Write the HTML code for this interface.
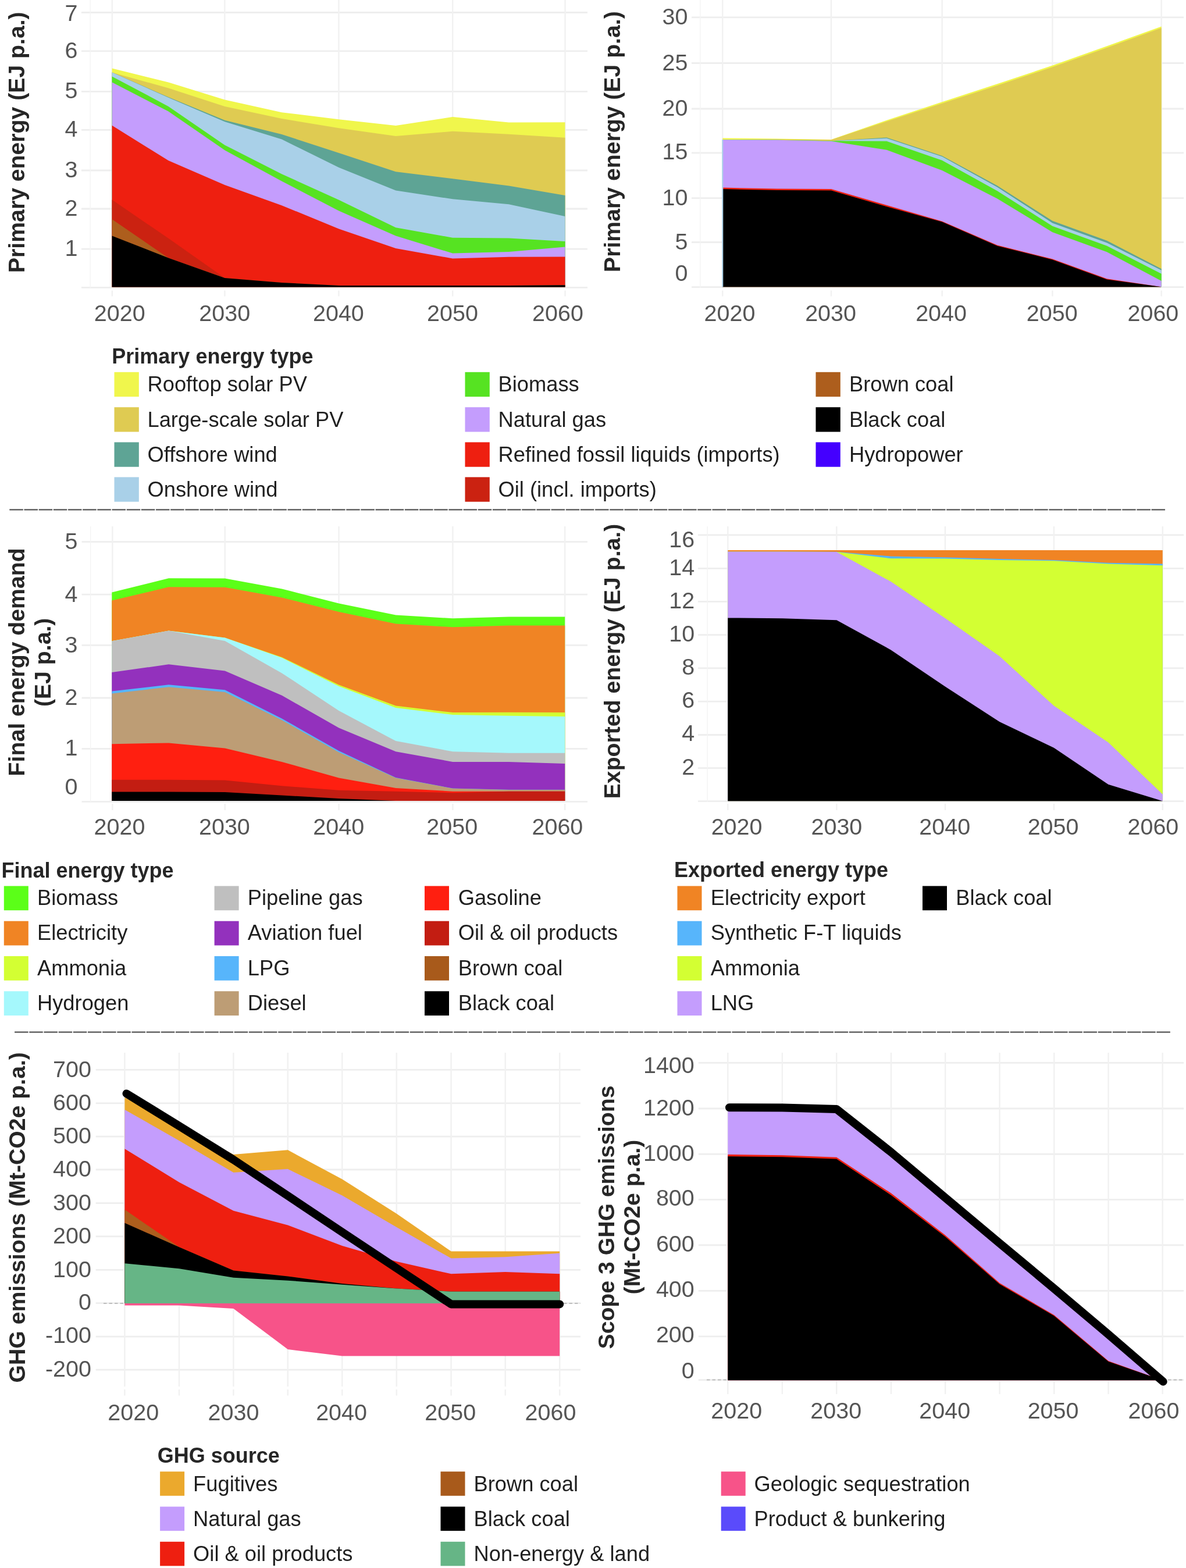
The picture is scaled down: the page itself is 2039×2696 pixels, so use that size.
<!DOCTYPE html>
<html><head><meta charset="utf-8"><title>Energy charts</title>
<style>
html,body{margin:0;padding:0;background:#fff;}
svg{display:block;}
text{font-family:"Liberation Sans",Arial,sans-serif;}
</style></head>
<body>
<svg width="2039" height="2696" viewBox="0 0 2039 2696">
<rect x="0" y="0" width="2039" height="2696" fill="#FFFFFF"/>
<line x1="140" y1="21.5" x2="1010" y2="21.5" stroke="#EEEEEE" stroke-width="2.8"/>
<line x1="140" y1="87.9" x2="1010" y2="87.9" stroke="#EEEEEE" stroke-width="2.8"/>
<line x1="140" y1="157.3" x2="1010" y2="157.3" stroke="#EEEEEE" stroke-width="2.8"/>
<line x1="140" y1="223.3" x2="1010" y2="223.3" stroke="#EEEEEE" stroke-width="2.8"/>
<line x1="140" y1="293" x2="1010" y2="293" stroke="#EEEEEE" stroke-width="2.8"/>
<line x1="140" y1="359" x2="1010" y2="359" stroke="#EEEEEE" stroke-width="2.8"/>
<line x1="140" y1="428.2" x2="1010" y2="428.2" stroke="#EEEEEE" stroke-width="2.8"/>
<line x1="140" y1="494.3" x2="1010" y2="494.3" stroke="#EEEEEE" stroke-width="2.8"/>
<line x1="155.2" y1="0" x2="155.2" y2="495" stroke="#F4F4F4" stroke-width="1.4"/>
<line x1="192.8" y1="0" x2="192.8" y2="495" stroke="#F1F1F1" stroke-width="2.4"/>
<line x1="192.8" y1="499.5" x2="192.8" y2="509.5" stroke="#F1F1F1" stroke-width="2.4"/>
<line x1="386.4" y1="0" x2="386.4" y2="495" stroke="#F1F1F1" stroke-width="2.4"/>
<line x1="386.4" y1="499.5" x2="386.4" y2="509.5" stroke="#F1F1F1" stroke-width="2.4"/>
<line x1="582.4" y1="0" x2="582.4" y2="495" stroke="#F1F1F1" stroke-width="2.4"/>
<line x1="582.4" y1="499.5" x2="582.4" y2="509.5" stroke="#F1F1F1" stroke-width="2.4"/>
<line x1="778.2" y1="0" x2="778.2" y2="495" stroke="#F1F1F1" stroke-width="2.4"/>
<line x1="778.2" y1="499.5" x2="778.2" y2="509.5" stroke="#F1F1F1" stroke-width="2.4"/>
<line x1="971.6" y1="0" x2="971.6" y2="495" stroke="#F1F1F1" stroke-width="2.4"/>
<line x1="971.6" y1="499.5" x2="971.6" y2="509.5" stroke="#F1F1F1" stroke-width="2.4"/>
<polygon fill="#F0F64C" points="192.6,117.6 289.5,141.4 386.4,171.6 484.4,193.2 582.6,205.2 680.4,215.9 778.2,201.1 874.8,210.5 971.5,210.3 971.5,493.5 192.6,493.5"/>
<polygon fill="#DFCB52" points="192.6,124.4 289.5,151.5 386.4,182.9 484.4,204 582.6,220.2 680.4,233.9 778.2,225.8 874.8,230.7 971.5,236.7 971.5,493.5 192.6,493.5"/>
<polygon fill="#5EA495" points="192.6,124.4 289.5,167 386.4,206.7 484.4,231 582.6,263 680.4,295.2 778.2,307.3 874.8,319.4 971.5,336 971.5,493.5 192.6,493.5"/>
<polygon fill="#A9D0E8" points="192.6,124.4 289.5,167.8 386.4,209.2 484.4,239.5 582.6,288 680.4,327.5 778.2,342.3 874.8,351.2 971.5,372 971.5,493.5 192.6,493.5"/>
<polygon fill="#56E322" points="192.6,131.4 289.5,182.9 386.4,249.4 484.4,299.2 582.6,343.7 680.4,391.3 778.2,408.7 874.8,409.6 971.5,415 971.5,493.5 192.6,493.5"/>
<polygon fill="#C49DFD" points="192.6,141.4 289.5,191.6 386.4,258.2 484.4,311.5 582.6,362.5 680.4,405.5 778.2,435.6 874.8,433 971.5,424.5 971.5,493.5 192.6,493.5"/>
<polygon fill="#EE1F10" points="192.6,215.8 289.5,276 386.4,318 484.4,353.2 582.6,393.4 680.4,427 778.2,444.5 874.8,441.8 971.5,441.5 971.5,493.5 192.6,493.5"/>
<polygon fill="#CB2211" points="192.6,343.6 289.5,409.8 386.4,478 484.4,486 582.6,491 680.4,491 778.2,491 874.8,491 971.5,490.3 971.5,493.5 192.6,493.5"/>
<polygon fill="#AD5E1D" points="192.6,377 289.5,443.5 386.4,478 484.4,486 582.6,491 680.4,491 778.2,491 874.8,491 971.5,490.3 971.5,493.5 192.6,493.5"/>
<polygon fill="#000000" points="192.6,405.4 289.5,443.5 386.4,478 484.4,486 582.6,491 680.4,491 778.2,491 874.8,491 971.5,490.3 971.5,493.5 192.6,493.5"/>
<text x="133.5" y="36.4" text-anchor="end" font-size="39.5" fill="#555555">7</text>
<text x="133.5" y="99.7" text-anchor="end" font-size="39.5" fill="#555555">6</text>
<text x="133.5" y="169.3" text-anchor="end" font-size="39.5" fill="#555555">5</text>
<text x="133.5" y="235.1" text-anchor="end" font-size="39.5" fill="#555555">4</text>
<text x="133.5" y="304.6" text-anchor="end" font-size="39.5" fill="#555555">3</text>
<text x="133.5" y="370.7" text-anchor="end" font-size="39.5" fill="#555555">2</text>
<text x="133.5" y="439.7" text-anchor="end" font-size="39.5" fill="#555555">1</text>
<text x="205.7" y="552" text-anchor="middle" font-size="39.5" fill="#555555">2020</text>
<text x="386.2" y="552" text-anchor="middle" font-size="39.5" fill="#555555">2030</text>
<text x="581.9" y="552" text-anchor="middle" font-size="39.5" fill="#555555">2040</text>
<text x="778" y="552" text-anchor="middle" font-size="39.5" fill="#555555">2050</text>
<text x="959" y="552" text-anchor="middle" font-size="39.5" fill="#555555">2060</text>
<text transform="translate(41.8,244.7) rotate(-90)" text-anchor="middle" font-size="39.2" fill="#262626" font-weight="bold">Primary energy (EJ p.a.)</text>
<line x1="1189" y1="29.9" x2="2035" y2="29.9" stroke="#EEEEEE" stroke-width="2.8"/>
<line x1="1189" y1="108.5" x2="2035" y2="108.5" stroke="#EEEEEE" stroke-width="2.8"/>
<line x1="1189" y1="187" x2="2035" y2="187" stroke="#EEEEEE" stroke-width="2.8"/>
<line x1="1189" y1="262.9" x2="2035" y2="262.9" stroke="#EEEEEE" stroke-width="2.8"/>
<line x1="1189" y1="340.7" x2="2035" y2="340.7" stroke="#EEEEEE" stroke-width="2.8"/>
<line x1="1189" y1="416.5" x2="2035" y2="416.5" stroke="#EEEEEE" stroke-width="2.8"/>
<line x1="1189" y1="493.7" x2="2035" y2="493.7" stroke="#EEEEEE" stroke-width="2.8"/>
<line x1="1203.8" y1="0" x2="1203.8" y2="495" stroke="#F4F4F4" stroke-width="1.4"/>
<line x1="1242.3" y1="0" x2="1242.3" y2="495" stroke="#F1F1F1" stroke-width="2.4"/>
<line x1="1242.3" y1="499.5" x2="1242.3" y2="509.5" stroke="#F1F1F1" stroke-width="2.4"/>
<line x1="1429" y1="0" x2="1429" y2="495" stroke="#F1F1F1" stroke-width="2.4"/>
<line x1="1429" y1="499.5" x2="1429" y2="509.5" stroke="#F1F1F1" stroke-width="2.4"/>
<line x1="1619.7" y1="0" x2="1619.7" y2="495" stroke="#F1F1F1" stroke-width="2.4"/>
<line x1="1619.7" y1="499.5" x2="1619.7" y2="509.5" stroke="#F1F1F1" stroke-width="2.4"/>
<line x1="1809.4" y1="0" x2="1809.4" y2="495" stroke="#F1F1F1" stroke-width="2.4"/>
<line x1="1809.4" y1="499.5" x2="1809.4" y2="509.5" stroke="#F1F1F1" stroke-width="2.4"/>
<line x1="1996.7" y1="0" x2="1996.7" y2="495" stroke="#F1F1F1" stroke-width="2.4"/>
<line x1="1996.7" y1="499.5" x2="1996.7" y2="509.5" stroke="#F1F1F1" stroke-width="2.4"/>
<polygon fill="#F0F64C" points="1242.3,237.4 1335.7,238.4 1429,240 1524.4,206.8 1619.7,175.2 1714.5,144.3 1809.4,112.6 1903,79.3 1996.7,45.4 1996.7,493.3 1242.3,493.3"/>
<polygon fill="#DFCB52" points="1242.3,240.3 1335.7,239.6 1429,240.3 1524.4,208.8 1619.7,177.8 1714.5,147 1809.4,115.3 1903,82 1996.7,47.9 1996.7,493.3 1242.3,493.3"/>
<polygon fill="#5EA495" points="1242.3,240.3 1335.7,240.8 1429,242.3 1524.4,236.6 1619.7,267.9 1714.5,319.3 1809.4,379.8 1903,413.8 1996.7,462.2 1996.7,493.3 1242.3,493.3"/>
<polygon fill="#A9D0E8" points="1242.3,240.3 1335.7,240.8 1429,242.3 1524.4,237.7 1619.7,269.3 1714.5,321.8 1809.4,383.4 1903,417.5 1996.7,464.8 1996.7,493.3 1242.3,493.3"/>
<polygon fill="#56E322" points="1242.3,240.3 1335.7,240.8 1429,242.3 1524.4,242.8 1619.7,275.8 1714.5,328.3 1809.4,388.7 1903,422.8 1996.7,470.8 1996.7,493.3 1242.3,493.3"/>
<polygon fill="#C49DFD" points="1242.3,240.3 1335.7,240.8 1429,242.8 1524.4,257.8 1619.7,292.9 1714.5,341.4 1809.4,399.2 1903,433.3 1996.7,483.1 1996.7,493.3 1242.3,493.3"/>
<polygon fill="#EE1F10" points="1242.3,322.6 1335.7,324.4 1429,325.1 1524.4,352.7 1619.7,380.4 1714.5,421.6 1809.4,445.2 1903,479.3 1996.7,493.3 1996.7,493.3 1242.3,493.3"/>
<polygon fill="#000000" points="1242.3,325.1 1335.7,326.9 1429,327.6 1524.4,355.2 1619.7,381.6 1714.5,422.8 1809.4,446.4 1903,480.5 1996.7,493.3 1996.7,493.3 1242.3,493.3"/>
<line x1="1242.3" y1="240" x2="1242.3" y2="493.3" stroke="#A9D0E8" stroke-width="2"/>
<text x="1182.5" y="42.4" text-anchor="end" font-size="39.5" fill="#555555">30</text>
<text x="1182.5" y="120.9" text-anchor="end" font-size="39.5" fill="#555555">25</text>
<text x="1182.5" y="199.4" text-anchor="end" font-size="39.5" fill="#555555">20</text>
<text x="1182.5" y="273.5" text-anchor="end" font-size="39.5" fill="#555555">15</text>
<text x="1182.5" y="353" text-anchor="end" font-size="39.5" fill="#555555">10</text>
<text x="1182.5" y="428.6" text-anchor="end" font-size="39.5" fill="#555555">5</text>
<text x="1182.5" y="482.5" text-anchor="end" font-size="39.5" fill="#555555">0</text>
<text x="1254.5" y="552" text-anchor="middle" font-size="39.5" fill="#555555">2020</text>
<text x="1428.1" y="552" text-anchor="middle" font-size="39.5" fill="#555555">2030</text>
<text x="1618.1" y="552" text-anchor="middle" font-size="39.5" fill="#555555">2040</text>
<text x="1808.8" y="552" text-anchor="middle" font-size="39.5" fill="#555555">2050</text>
<text x="1982.4" y="552" text-anchor="middle" font-size="39.5" fill="#555555">2060</text>
<text transform="translate(1066.3,243.6) rotate(-90)" text-anchor="middle" font-size="39.2" fill="#262626" font-weight="bold">Primary energy (EJ p.a.)</text>
<text x="192.3" y="625" text-anchor="start" font-size="36" fill="#262626" font-weight="bold">Primary energy type</text>
<rect x="196.5" y="639.8" width="42.3" height="42.3" fill="#F0F64C"/>
<text x="253.5" y="673.3" text-anchor="start" font-size="36.3" fill="#1F1F1F">Rooftop solar PV</text>
<rect x="196.5" y="700.2" width="42.3" height="42.3" fill="#DFCB52"/>
<text x="253.5" y="733.7" text-anchor="start" font-size="36.3" fill="#1F1F1F">Large-scale solar PV</text>
<rect x="196.5" y="760.4" width="42.3" height="42.3" fill="#5EA495"/>
<text x="253.5" y="793.9" text-anchor="start" font-size="36.3" fill="#1F1F1F">Offshore wind</text>
<rect x="196.5" y="820.4" width="42.3" height="42.3" fill="#A9D0E8"/>
<text x="253.5" y="853.9" text-anchor="start" font-size="36.3" fill="#1F1F1F">Onshore wind</text>
<rect x="799.5" y="639.8" width="42.3" height="42.3" fill="#56E322"/>
<text x="856.5" y="673.3" text-anchor="start" font-size="36.3" fill="#1F1F1F">Biomass</text>
<rect x="799.5" y="700.2" width="42.3" height="42.3" fill="#C49DFD"/>
<text x="856.5" y="733.7" text-anchor="start" font-size="36.3" fill="#1F1F1F">Natural gas</text>
<rect x="799.5" y="760.4" width="42.3" height="42.3" fill="#EE1F10"/>
<text x="856.5" y="793.9" text-anchor="start" font-size="36.3" fill="#1F1F1F">Refined fossil liquids (imports)</text>
<rect x="799.5" y="820.4" width="42.3" height="42.3" fill="#CB2211"/>
<text x="856.5" y="853.9" text-anchor="start" font-size="36.3" fill="#1F1F1F">Oil (incl. imports)</text>
<rect x="1402.5" y="639.8" width="42.3" height="42.3" fill="#AD5E1D"/>
<text x="1460" y="673.3" text-anchor="start" font-size="36.3" fill="#1F1F1F">Brown coal</text>
<rect x="1402.5" y="700.2" width="42.3" height="42.3" fill="#000000"/>
<text x="1460" y="733.7" text-anchor="start" font-size="36.3" fill="#1F1F1F">Black coal</text>
<rect x="1402.5" y="760.4" width="42.3" height="42.3" fill="#4400FF"/>
<text x="1460" y="793.9" text-anchor="start" font-size="36.3" fill="#1F1F1F">Hydropower</text>
<line x1="16.3" y1="876.4" x2="2003.7" y2="876.4" stroke="#555555" stroke-width="2.3" stroke-dasharray="23.5 1.67"/>
<line x1="140.5" y1="931.6" x2="1010" y2="931.6" stroke="#EEEEEE" stroke-width="2.8"/>
<line x1="140.5" y1="1022.2" x2="1010" y2="1022.2" stroke="#EEEEEE" stroke-width="2.8"/>
<line x1="140.5" y1="1109.4" x2="1010" y2="1109.4" stroke="#EEEEEE" stroke-width="2.8"/>
<line x1="140.5" y1="1200" x2="1010" y2="1200" stroke="#EEEEEE" stroke-width="2.8"/>
<line x1="140.5" y1="1287.4" x2="1010" y2="1287.4" stroke="#EEEEEE" stroke-width="2.8"/>
<line x1="140.5" y1="1378.3" x2="1010" y2="1378.3" stroke="#EEEEEE" stroke-width="2.8"/>
<line x1="155.7" y1="905" x2="155.7" y2="1379" stroke="#F4F4F4" stroke-width="1.4"/>
<line x1="193.3" y1="905" x2="193.3" y2="1379" stroke="#F1F1F1" stroke-width="2.4"/>
<line x1="193.3" y1="1382" x2="193.3" y2="1393" stroke="#F1F1F1" stroke-width="2.4"/>
<line x1="386.7" y1="905" x2="386.7" y2="1379" stroke="#F1F1F1" stroke-width="2.4"/>
<line x1="386.7" y1="1382" x2="386.7" y2="1393" stroke="#F1F1F1" stroke-width="2.4"/>
<line x1="582.6" y1="905" x2="582.6" y2="1379" stroke="#F1F1F1" stroke-width="2.4"/>
<line x1="582.6" y1="1382" x2="582.6" y2="1393" stroke="#F1F1F1" stroke-width="2.4"/>
<line x1="778.4" y1="905" x2="778.4" y2="1379" stroke="#F1F1F1" stroke-width="2.4"/>
<line x1="778.4" y1="1382" x2="778.4" y2="1393" stroke="#F1F1F1" stroke-width="2.4"/>
<line x1="971.2" y1="905" x2="971.2" y2="1379" stroke="#F1F1F1" stroke-width="2.4"/>
<line x1="971.2" y1="1382" x2="971.2" y2="1393" stroke="#F1F1F1" stroke-width="2.4"/>
<polygon fill="#5BFF18" points="192.3,1018.5 290,994.2 386.7,994.5 484.7,1012.4 582.6,1037.6 680.5,1057.6 778.4,1063.2 874.8,1060.6 971.2,1060.6 971.2,1377 192.3,1377"/>
<polygon fill="#F08424" points="192.3,1032.6 290,1009.3 386.7,1009.7 484.7,1027.4 582.6,1051.9 680.5,1072.6 778.4,1078.3 874.8,1075.6 971.2,1075.6 971.2,1377 192.3,1377"/>
<polygon fill="#D3FF33" points="192.3,1102.2 290,1084.6 386.7,1096.4 484.7,1130 582.6,1177.5 680.5,1213.4 778.4,1225.1 874.8,1224.8 971.2,1225.1 971.2,1377 192.3,1377"/>
<polygon fill="#A5F8FC" points="192.3,1102.2 290,1084.6 386.7,1096.4 484.7,1131 582.6,1180 680.5,1216.9 778.4,1228.9 874.8,1230.8 971.2,1231.9 971.2,1377 192.3,1377"/>
<polygon fill="#BFBFBF" points="192.3,1102.2 290,1084.6 386.7,1102 484.7,1157.4 582.6,1222.1 680.5,1274.1 778.4,1292.2 874.8,1294.8 971.2,1294.8 971.2,1377 192.3,1377"/>
<polygon fill="#9331BD" points="192.3,1156.1 290,1142.3 386.7,1153.6 484.7,1195.8 582.6,1251.5 680.5,1292.2 778.4,1309.9 874.8,1309.9 971.2,1312.9 971.2,1377 192.3,1377"/>
<polygon fill="#57B5FB" points="192.3,1188.6 290,1177.3 386.7,1186.2 484.7,1235.5 582.6,1291 680.5,1337 778.4,1355.5 874.8,1357.7 971.2,1357.7 971.2,1377 192.3,1377"/>
<polygon fill="#BD9D75" points="192.3,1192.5 290,1181.2 386.7,1190 484.7,1238.3 582.6,1293.5 680.5,1337.4 778.4,1355.8 874.8,1358 971.2,1358 971.2,1377 192.3,1377"/>
<polygon fill="#FF1F10" points="192.3,1279.2 290,1277.4 386.7,1286.4 484.7,1309.9 582.6,1337.4 680.5,1355 778.4,1360.7 874.8,1360.7 971.2,1360.7 971.2,1377 192.3,1377"/>
<polygon fill="#C31D12" points="192.3,1340.7 290,1340.7 386.7,1341.5 484.7,1351.3 582.6,1358.8 680.5,1360.7 778.4,1363.2 874.8,1360.7 971.2,1360.7 971.2,1377 192.3,1377"/>
<polygon fill="#000000" points="192.3,1361.5 290,1361.5 386.7,1362 484.7,1367.5 582.6,1373.1 680.5,1377 778.4,1377 874.8,1377 971.2,1377 971.2,1377 192.3,1377"/>
<text x="133.5" y="944.3" text-anchor="end" font-size="39.5" fill="#555555">5</text>
<text x="133.5" y="1034.7" text-anchor="end" font-size="39.5" fill="#555555">4</text>
<text x="133.5" y="1121.9" text-anchor="end" font-size="39.5" fill="#555555">3</text>
<text x="133.5" y="1212.4" text-anchor="end" font-size="39.5" fill="#555555">2</text>
<text x="133.5" y="1299.2" text-anchor="end" font-size="39.5" fill="#555555">1</text>
<text x="133.5" y="1366" text-anchor="end" font-size="39.5" fill="#555555">0</text>
<text x="205.5" y="1435.4" text-anchor="middle" font-size="39.5" fill="#555555">2020</text>
<text x="385.9" y="1435.4" text-anchor="middle" font-size="39.5" fill="#555555">2030</text>
<text x="582.2" y="1435.4" text-anchor="middle" font-size="39.5" fill="#555555">2040</text>
<text x="777.3" y="1435.4" text-anchor="middle" font-size="39.5" fill="#555555">2050</text>
<text x="958.4" y="1435.4" text-anchor="middle" font-size="39.5" fill="#555555">2060</text>
<text transform="translate(41.8,1138.4) rotate(-90)" text-anchor="middle" font-size="39.2" fill="#262626" font-weight="bold">Final energy demand</text>
<text transform="translate(87.2,1138.8) rotate(-90)" text-anchor="middle" font-size="39.2" fill="#262626" font-weight="bold">(EJ p.a.)</text>
<line x1="1200" y1="919.8" x2="2035" y2="919.8" stroke="#EEEEEE" stroke-width="2.8"/>
<line x1="1200" y1="977.4" x2="2035" y2="977.4" stroke="#EEEEEE" stroke-width="2.8"/>
<line x1="1200" y1="1034.4" x2="2035" y2="1034.4" stroke="#EEEEEE" stroke-width="2.8"/>
<line x1="1200" y1="1091.7" x2="2035" y2="1091.7" stroke="#EEEEEE" stroke-width="2.8"/>
<line x1="1200" y1="1148.8" x2="2035" y2="1148.8" stroke="#EEEEEE" stroke-width="2.8"/>
<line x1="1200" y1="1206.2" x2="2035" y2="1206.2" stroke="#EEEEEE" stroke-width="2.8"/>
<line x1="1200" y1="1263.5" x2="2035" y2="1263.5" stroke="#EEEEEE" stroke-width="2.8"/>
<line x1="1200" y1="1320.7" x2="2035" y2="1320.7" stroke="#EEEEEE" stroke-width="2.8"/>
<line x1="1200" y1="1377.6" x2="2035" y2="1377.6" stroke="#EEEEEE" stroke-width="2.8"/>
<line x1="1216.1" y1="905" x2="1216.1" y2="1379" stroke="#F4F4F4" stroke-width="1.4"/>
<line x1="1251.4" y1="905" x2="1251.4" y2="1379" stroke="#F1F1F1" stroke-width="2.4"/>
<line x1="1251.4" y1="1382" x2="1251.4" y2="1393" stroke="#F1F1F1" stroke-width="2.4"/>
<line x1="1438.4" y1="905" x2="1438.4" y2="1379" stroke="#F1F1F1" stroke-width="2.4"/>
<line x1="1438.4" y1="1382" x2="1438.4" y2="1393" stroke="#F1F1F1" stroke-width="2.4"/>
<line x1="1625" y1="905" x2="1625" y2="1379" stroke="#F1F1F1" stroke-width="2.4"/>
<line x1="1625" y1="1382" x2="1625" y2="1393" stroke="#F1F1F1" stroke-width="2.4"/>
<line x1="1811.9" y1="905" x2="1811.9" y2="1379" stroke="#F1F1F1" stroke-width="2.4"/>
<line x1="1811.9" y1="1382" x2="1811.9" y2="1393" stroke="#F1F1F1" stroke-width="2.4"/>
<line x1="1998.8" y1="905" x2="1998.8" y2="1379" stroke="#F1F1F1" stroke-width="2.4"/>
<line x1="1998.8" y1="1382" x2="1998.8" y2="1393" stroke="#F1F1F1" stroke-width="2.4"/>
<polygon fill="#F08424" points="1251.3,946 1344.8,946 1438.4,946 1531.6,946 1625,946 1718.4,946 1811.9,946 1905.4,946 1998.8,946 1998.8,1377.2 1251.3,1377.2"/>
<polygon fill="#57B5FB" points="1251.3,948.5 1344.8,948.5 1438.4,948.7 1531.6,956.5 1625,958.3 1718.4,960.9 1811.9,963 1905.4,967.7 1998.8,969.5 1998.8,1377.2 1251.3,1377.2"/>
<polygon fill="#D3FF33" points="1251.3,948.5 1344.8,948.5 1438.4,949 1531.6,960.3 1625,960.4 1718.4,963 1811.9,964.3 1905.4,969.5 1998.8,972.2 1998.8,1377.2 1251.3,1377.2"/>
<polygon fill="#C49DFD" points="1251.3,948.5 1344.8,948.5 1438.4,949 1531.6,1000 1625,1063 1718.4,1128.3 1811.9,1213.6 1905.4,1276.5 1998.8,1365.7 1998.8,1377.2 1251.3,1377.2"/>
<polygon fill="#000000" points="1251.3,1062.4 1344.8,1063.2 1438.4,1066.2 1531.6,1117.4 1625,1180.5 1718.4,1241.1 1811.9,1285.7 1905.4,1348.7 1998.8,1377.2 1998.8,1377.2 1251.3,1377.2"/>
<text x="1194.2" y="940.7" text-anchor="end" font-size="39.5" fill="#555555">16</text>
<text x="1194.2" y="989.1" text-anchor="end" font-size="39.5" fill="#555555">14</text>
<text x="1194.2" y="1046.3" text-anchor="end" font-size="39.5" fill="#555555">12</text>
<text x="1194.2" y="1103.3" text-anchor="end" font-size="39.5" fill="#555555">10</text>
<text x="1194.2" y="1159.8" text-anchor="end" font-size="39.5" fill="#555555">8</text>
<text x="1194.2" y="1217.4" text-anchor="end" font-size="39.5" fill="#555555">6</text>
<text x="1194.2" y="1274" text-anchor="end" font-size="39.5" fill="#555555">4</text>
<text x="1194.2" y="1332.4" text-anchor="end" font-size="39.5" fill="#555555">2</text>
<text x="1266.6" y="1435.4" text-anchor="middle" font-size="39.5" fill="#555555">2020</text>
<text x="1438.4" y="1435.4" text-anchor="middle" font-size="39.5" fill="#555555">2030</text>
<text x="1624.2" y="1435.4" text-anchor="middle" font-size="39.5" fill="#555555">2040</text>
<text x="1810.6" y="1435.4" text-anchor="middle" font-size="39.5" fill="#555555">2050</text>
<text x="1982.4" y="1435.4" text-anchor="middle" font-size="39.5" fill="#555555">2060</text>
<text transform="translate(1066.3,1137) rotate(-90)" text-anchor="middle" font-size="39.2" fill="#262626" font-weight="bold">Exported energy (EJ p.a.)</text>
<text x="2.5" y="1508.5" text-anchor="start" font-size="36" fill="#262626" font-weight="bold">Final energy type</text>
<rect x="6.8" y="1523.4" width="42.0" height="41.8" fill="#5BFF18"/>
<text x="64" y="1556.1" text-anchor="start" font-size="36.3" fill="#1F1F1F">Biomass</text>
<rect x="6.8" y="1583.7" width="42.0" height="41.8" fill="#F08424"/>
<text x="64" y="1616.4" text-anchor="start" font-size="36.3" fill="#1F1F1F">Electricity</text>
<rect x="6.8" y="1644" width="42.0" height="41.8" fill="#D3FF33"/>
<text x="64" y="1676.7" text-anchor="start" font-size="36.3" fill="#1F1F1F">Ammonia</text>
<rect x="6.8" y="1704.3" width="42.0" height="41.8" fill="#A5F8FC"/>
<text x="64" y="1737" text-anchor="start" font-size="36.3" fill="#1F1F1F">Hydrogen</text>
<rect x="368.6" y="1523.4" width="42.0" height="41.8" fill="#BFBFBF"/>
<text x="425.8" y="1556.1" text-anchor="start" font-size="36.3" fill="#1F1F1F">Pipeline gas</text>
<rect x="368.6" y="1583.7" width="42.0" height="41.8" fill="#9331BD"/>
<text x="425.8" y="1616.4" text-anchor="start" font-size="36.3" fill="#1F1F1F">Aviation fuel</text>
<rect x="368.6" y="1644" width="42.0" height="41.8" fill="#57B5FB"/>
<text x="425.8" y="1676.7" text-anchor="start" font-size="36.3" fill="#1F1F1F">LPG</text>
<rect x="368.6" y="1704.3" width="42.0" height="41.8" fill="#BD9D75"/>
<text x="425.8" y="1737" text-anchor="start" font-size="36.3" fill="#1F1F1F">Diesel</text>
<rect x="730" y="1523.4" width="42.0" height="41.8" fill="#FF1F10"/>
<text x="787.7" y="1556.1" text-anchor="start" font-size="36.3" fill="#1F1F1F">Gasoline</text>
<rect x="730" y="1583.7" width="42.0" height="41.8" fill="#C31D12"/>
<text x="787.7" y="1616.4" text-anchor="start" font-size="36.3" fill="#1F1F1F">Oil &amp; oil products</text>
<rect x="730" y="1644" width="42.0" height="41.8" fill="#A85A1B"/>
<text x="787.7" y="1676.7" text-anchor="start" font-size="36.3" fill="#1F1F1F">Brown coal</text>
<rect x="730" y="1704.3" width="42.0" height="41.8" fill="#000000"/>
<text x="787.7" y="1737" text-anchor="start" font-size="36.3" fill="#1F1F1F">Black coal</text>
<text x="1158.9" y="1508.3" text-anchor="start" font-size="36" fill="#262626" font-weight="bold">Exported energy type</text>
<rect x="1164.5" y="1523.4" width="42.0" height="41.8" fill="#F08424"/>
<text x="1221.7" y="1556.1" text-anchor="start" font-size="36.3" fill="#1F1F1F">Electricity export</text>
<rect x="1164.5" y="1583.7" width="42.0" height="41.8" fill="#57B5FB"/>
<text x="1221.7" y="1616.4" text-anchor="start" font-size="36.3" fill="#1F1F1F">Synthetic F-T liquids</text>
<rect x="1164.5" y="1644" width="42.0" height="41.8" fill="#D3FF33"/>
<text x="1221.7" y="1676.7" text-anchor="start" font-size="36.3" fill="#1F1F1F">Ammonia</text>
<rect x="1164.5" y="1704.3" width="42.0" height="41.8" fill="#C49DFD"/>
<text x="1221.7" y="1737" text-anchor="start" font-size="36.3" fill="#1F1F1F">LNG</text>
<rect x="1586" y="1523.4" width="42.0" height="41.8" fill="#000000"/>
<text x="1643.2" y="1556.1" text-anchor="start" font-size="36.3" fill="#1F1F1F">Black coal</text>
<line x1="25.1" y1="1774.6" x2="2012" y2="1774.6" stroke="#555555" stroke-width="2.3" stroke-dasharray="23.5 1.67"/>
<line x1="164.7" y1="1839.4" x2="998" y2="1839.4" stroke="#EEEEEE" stroke-width="2.8"/>
<line x1="164.7" y1="1896.8" x2="998" y2="1896.8" stroke="#EEEEEE" stroke-width="2.8"/>
<line x1="164.7" y1="1954.2" x2="998" y2="1954.2" stroke="#EEEEEE" stroke-width="2.8"/>
<line x1="164.7" y1="2011" x2="998" y2="2011" stroke="#EEEEEE" stroke-width="2.8"/>
<line x1="164.7" y1="2068.6" x2="998" y2="2068.6" stroke="#EEEEEE" stroke-width="2.8"/>
<line x1="164.7" y1="2125.8" x2="998" y2="2125.8" stroke="#EEEEEE" stroke-width="2.8"/>
<line x1="164.7" y1="2183.4" x2="998" y2="2183.4" stroke="#EEEEEE" stroke-width="2.8"/>
<line x1="164.7" y1="2298.1" x2="998" y2="2298.1" stroke="#EEEEEE" stroke-width="2.8"/>
<line x1="164.7" y1="2355.1" x2="998" y2="2355.1" stroke="#EEEEEE" stroke-width="2.8"/>
<line x1="164.7" y1="2240.6" x2="998" y2="2240.6" stroke="#EEEEEE" stroke-width="2.8"/>
<line x1="214.4" y1="1810" x2="214.4" y2="2384" stroke="#F1F1F1" stroke-width="2.4"/>
<line x1="214.4" y1="2389" x2="214.4" y2="2399.5" stroke="#F1F1F1" stroke-width="2.4"/>
<line x1="308" y1="1810" x2="308" y2="2384" stroke="#F1F1F1" stroke-width="2.4"/>
<line x1="308" y1="2389" x2="308" y2="2399.5" stroke="#F1F1F1" stroke-width="2.4"/>
<line x1="401.4" y1="1810" x2="401.4" y2="2384" stroke="#F1F1F1" stroke-width="2.4"/>
<line x1="401.4" y1="2389" x2="401.4" y2="2399.5" stroke="#F1F1F1" stroke-width="2.4"/>
<line x1="494.8" y1="1810" x2="494.8" y2="2384" stroke="#F1F1F1" stroke-width="2.4"/>
<line x1="494.8" y1="2389" x2="494.8" y2="2399.5" stroke="#F1F1F1" stroke-width="2.4"/>
<line x1="588.3" y1="1810" x2="588.3" y2="2384" stroke="#F1F1F1" stroke-width="2.4"/>
<line x1="588.3" y1="2389" x2="588.3" y2="2399.5" stroke="#F1F1F1" stroke-width="2.4"/>
<line x1="681.8" y1="1810" x2="681.8" y2="2384" stroke="#F1F1F1" stroke-width="2.4"/>
<line x1="681.8" y1="2389" x2="681.8" y2="2399.5" stroke="#F1F1F1" stroke-width="2.4"/>
<line x1="775.6" y1="1810" x2="775.6" y2="2384" stroke="#F1F1F1" stroke-width="2.4"/>
<line x1="775.6" y1="2389" x2="775.6" y2="2399.5" stroke="#F1F1F1" stroke-width="2.4"/>
<line x1="868.7" y1="1810" x2="868.7" y2="2384" stroke="#F1F1F1" stroke-width="2.4"/>
<line x1="868.7" y1="2389" x2="868.7" y2="2399.5" stroke="#F1F1F1" stroke-width="2.4"/>
<line x1="962.2" y1="1810" x2="962.2" y2="2384" stroke="#F1F1F1" stroke-width="2.4"/>
<line x1="962.2" y1="2389" x2="962.2" y2="2399.5" stroke="#F1F1F1" stroke-width="2.4"/>
<polygon fill="#F75389" points="214.4,2241 308,2241 401.4,2241 494.8,2241 588.3,2241 681.8,2241 775.6,2241 868.7,2241 962.2,2241 962.2,2331.6 868.7,2331.6 775.6,2331.6 681.8,2331.6 588.3,2331.6 494.8,2320 401.4,2250 308,2244.6 214.4,2244.4"/>
<polygon fill="#EBA92D" points="214.4,1886.9 308,1936 401.4,1985 494.8,1977.3 588.3,2027.5 681.8,2086.7 775.6,2151.6 868.7,2151.6 962.2,2151.6 962.2,2241 214.4,2241"/>
<polygon fill="#C49DFD" points="214.4,1907.9 308,1961.2 401.4,2015.9 494.8,2010 588.3,2055.4 681.8,2110 775.6,2163.6 868.7,2161.2 962.2,2154.8 962.2,2241 214.4,2241"/>
<polygon fill="#EE1F10" points="214.4,1975.2 308,2032.7 401.4,2081.8 494.8,2106.5 588.3,2142.1 681.8,2169.1 775.6,2190.3 868.7,2187.1 962.2,2190.3 962.2,2241 214.4,2241"/>
<polygon fill="#AD5E1D" points="214.4,2079.8 308,2144.3 401.4,2184.6 494.8,2194.4 588.3,2207.1 681.8,2215.6 775.6,2220.7 868.7,2220.7 962.2,2220.7 962.2,2241 214.4,2241"/>
<polygon fill="#000000" points="214.4,2102.8 308,2144.3 401.4,2184.6 494.8,2194.4 588.3,2207.1 681.8,2215.6 775.6,2220.7 868.7,2220.7 962.2,2220.7 962.2,2241 214.4,2241"/>
<polygon fill="#66B586" points="214.4,2172.3 308,2181.3 401.4,2196.7 494.8,2201.7 588.3,2208.7 681.8,2215.6 775.6,2220.7 868.7,2220.7 962.2,2220.7 962.2,2241 214.4,2241"/>
<line x1="178" y1="2241" x2="213" y2="2241" stroke="#BEBEBE" stroke-width="2" stroke-dasharray="5.5 4"/>
<line x1="969" y1="2241" x2="998" y2="2241" stroke="#BEBEBE" stroke-width="2" stroke-dasharray="5.5 4"/>
<polyline fill="none" stroke="#000" stroke-width="14" stroke-linejoin="round" stroke-linecap="round" points="217.5,1880.4 308,1936 401.4,1994 494.8,2056 588.3,2118.5 681.8,2180.5 775.6,2242.4 868.7,2242.4 962.2,2242.4"/>
<text x="157" y="1852" text-anchor="end" font-size="39.5" fill="#555555">700</text>
<text x="157" y="1909.2" text-anchor="end" font-size="39.5" fill="#555555">600</text>
<text x="157" y="1966.3" text-anchor="end" font-size="39.5" fill="#555555">500</text>
<text x="157" y="2023.4" text-anchor="end" font-size="39.5" fill="#555555">400</text>
<text x="157" y="2080.8" text-anchor="end" font-size="39.5" fill="#555555">300</text>
<text x="157" y="2138.2" text-anchor="end" font-size="39.5" fill="#555555">200</text>
<text x="157" y="2195.7" text-anchor="end" font-size="39.5" fill="#555555">100</text>
<text x="157" y="2252.3" text-anchor="end" font-size="39.5" fill="#555555">0</text>
<text x="157" y="2309.4" text-anchor="end" font-size="39.5" fill="#555555">-100</text>
<text x="157" y="2366.9" text-anchor="end" font-size="39.5" fill="#555555">-200</text>
<text x="229.2" y="2441.9" text-anchor="middle" font-size="39.5" fill="#555555">2020</text>
<text x="401.5" y="2441.9" text-anchor="middle" font-size="39.5" fill="#555555">2030</text>
<text x="587.1" y="2441.9" text-anchor="middle" font-size="39.5" fill="#555555">2040</text>
<text x="774.3" y="2441.9" text-anchor="middle" font-size="39.5" fill="#555555">2050</text>
<text x="946.5" y="2441.9" text-anchor="middle" font-size="39.5" fill="#555555">2060</text>
<text transform="translate(42.7,2093.3) rotate(-90)" text-anchor="middle" font-size="39.2" fill="#262626" font-weight="bold">GHG emissions (Mt-CO2e p.a.)</text>
<line x1="1200.8" y1="1827.3" x2="2035" y2="1827.3" stroke="#EEEEEE" stroke-width="2.8"/>
<line x1="1200.8" y1="1906" x2="2035" y2="1906" stroke="#EEEEEE" stroke-width="2.8"/>
<line x1="1200.8" y1="1984.3" x2="2035" y2="1984.3" stroke="#EEEEEE" stroke-width="2.8"/>
<line x1="1200.8" y1="2062.6" x2="2035" y2="2062.6" stroke="#EEEEEE" stroke-width="2.8"/>
<line x1="1200.8" y1="2140.8" x2="2035" y2="2140.8" stroke="#EEEEEE" stroke-width="2.8"/>
<line x1="1200.8" y1="2219.3" x2="2035" y2="2219.3" stroke="#EEEEEE" stroke-width="2.8"/>
<line x1="1200.8" y1="2297.8" x2="2035" y2="2297.8" stroke="#EEEEEE" stroke-width="2.8"/>
<line x1="1200.8" y1="2372.6" x2="2035" y2="2372.6" stroke="#EEEEEE" stroke-width="2.8"/>
<line x1="1251.3" y1="1810" x2="1251.3" y2="2397" stroke="#F1F1F1" stroke-width="2.4"/>
<line x1="1344.9" y1="1810" x2="1344.9" y2="2397" stroke="#F1F1F1" stroke-width="2.4"/>
<line x1="1438.2" y1="1810" x2="1438.2" y2="2397" stroke="#F1F1F1" stroke-width="2.4"/>
<line x1="1532" y1="1810" x2="1532" y2="2397" stroke="#F1F1F1" stroke-width="2.4"/>
<line x1="1625.2" y1="1810" x2="1625.2" y2="2397" stroke="#F1F1F1" stroke-width="2.4"/>
<line x1="1718.6" y1="1810" x2="1718.6" y2="2397" stroke="#F1F1F1" stroke-width="2.4"/>
<line x1="1812.2" y1="1810" x2="1812.2" y2="2397" stroke="#F1F1F1" stroke-width="2.4"/>
<line x1="1905.6" y1="1810" x2="1905.6" y2="2397" stroke="#F1F1F1" stroke-width="2.4"/>
<line x1="1998.7" y1="1810" x2="1998.7" y2="2397" stroke="#F1F1F1" stroke-width="2.4"/>
<polygon fill="#C49DFD" points="1251.3,1904.3 1344.9,1904.5 1438.2,1907 1532,1981 1625.2,2059.3 1718.6,2137.6 1812.2,2215.5 1905.6,2294.3 1998.7,2375 1998.7,2373.2 1251.3,2373.2"/>
<polygon fill="#EE1F10" points="1251.3,1985 1344.9,1986.2 1438.2,1989.8 1532,2051.6 1625.2,2123.8 1718.6,2206 1812.2,2261 1905.6,2340 1998.7,2373.2 1998.7,2373.2 1251.3,2373.2"/>
<polygon fill="#000000" points="1251.3,1988.3 1344.9,1989.2 1438.2,1992.8 1532,2055 1625.2,2126.6 1718.6,2207.9 1812.2,2262.6 1905.6,2341.1 1998.7,2373.2 1998.7,2373.2 1251.3,2373.2"/>
<line x1="1215" y1="2372.6" x2="1250" y2="2372.6" stroke="#BEBEBE" stroke-width="2" stroke-dasharray="5.5 4"/>
<line x1="2008" y1="2372.6" x2="2035" y2="2372.6" stroke="#BEBEBE" stroke-width="2" stroke-dasharray="5.5 4"/>
<polyline fill="none" stroke="#000" stroke-width="14" stroke-linejoin="round" stroke-linecap="round" points="1254,1904.3 1344.9,1904.5 1438.2,1907 1532,1981 1625.2,2059.3 1718.6,2137.6 1812.2,2215.5 1905.6,2294.3 1999.7,2375.5"/>
<text x="1193.8" y="1845.1" text-anchor="end" font-size="39.5" fill="#555555">1400</text>
<text x="1193.8" y="1917.7" text-anchor="end" font-size="39.5" fill="#555555">1200</text>
<text x="1193.8" y="1995.5" text-anchor="end" font-size="39.5" fill="#555555">1000</text>
<text x="1193.8" y="2073.3" text-anchor="end" font-size="39.5" fill="#555555">800</text>
<text x="1193.8" y="2152.4" text-anchor="end" font-size="39.5" fill="#555555">600</text>
<text x="1193.8" y="2230.2" text-anchor="end" font-size="39.5" fill="#555555">400</text>
<text x="1193.8" y="2308" text-anchor="end" font-size="39.5" fill="#555555">200</text>
<text x="1193.8" y="2369.9" text-anchor="end" font-size="39.5" fill="#555555">0</text>
<text x="1266.3" y="2439.1" text-anchor="middle" font-size="39.5" fill="#555555">2020</text>
<text x="1437.2" y="2439.1" text-anchor="middle" font-size="39.5" fill="#555555">2030</text>
<text x="1624.3" y="2439.1" text-anchor="middle" font-size="39.5" fill="#555555">2040</text>
<text x="1810.6" y="2439.1" text-anchor="middle" font-size="39.5" fill="#555555">2050</text>
<text x="1983.5" y="2439.1" text-anchor="middle" font-size="39.5" fill="#555555">2060</text>
<text transform="translate(1055.5,2093) rotate(-90)" text-anchor="middle" font-size="39.2" fill="#262626" font-weight="bold">Scope 3 GHG emissions</text>
<text transform="translate(1100.2,2092.6) rotate(-90)" text-anchor="middle" font-size="39.2" fill="#262626" font-weight="bold">(Mt-CO2e p.a.)</text>
<text x="270.8" y="2514.8" text-anchor="start" font-size="36" fill="#262626" font-weight="bold">GHG source</text>
<rect x="275.1" y="2530.2" width="42" height="41.6" fill="#EBA92D"/>
<text x="332.1" y="2563.5" text-anchor="start" font-size="36.3" fill="#1F1F1F">Fugitives</text>
<rect x="275.1" y="2590.5" width="42" height="41.6" fill="#C49DFD"/>
<text x="332.1" y="2623.8" text-anchor="start" font-size="36.3" fill="#1F1F1F">Natural gas</text>
<rect x="275.1" y="2650.8" width="42" height="41.6" fill="#EE1F10"/>
<text x="332.1" y="2684.1" text-anchor="start" font-size="36.3" fill="#1F1F1F">Oil &amp; oil products</text>
<rect x="757.5" y="2530.2" width="42" height="41.6" fill="#A85A1B"/>
<text x="814.5" y="2563.5" text-anchor="start" font-size="36.3" fill="#1F1F1F">Brown coal</text>
<rect x="757.5" y="2590.5" width="42" height="41.6" fill="#000000"/>
<text x="814.5" y="2623.8" text-anchor="start" font-size="36.3" fill="#1F1F1F">Black coal</text>
<rect x="757.5" y="2650.8" width="42" height="41.6" fill="#66B586"/>
<text x="814.5" y="2684.1" text-anchor="start" font-size="36.3" fill="#1F1F1F">Non-energy &amp; land</text>
<rect x="1239.7" y="2530.2" width="42" height="41.6" fill="#F75389"/>
<text x="1296.5" y="2563.5" text-anchor="start" font-size="36.3" fill="#1F1F1F">Geologic sequestration</text>
<rect x="1239.7" y="2590.5" width="42" height="41.6" fill="#5A4BFB"/>
<text x="1296.5" y="2623.8" text-anchor="start" font-size="36.3" fill="#1F1F1F">Product &amp; bunkering</text>
</svg>
</body></html>
